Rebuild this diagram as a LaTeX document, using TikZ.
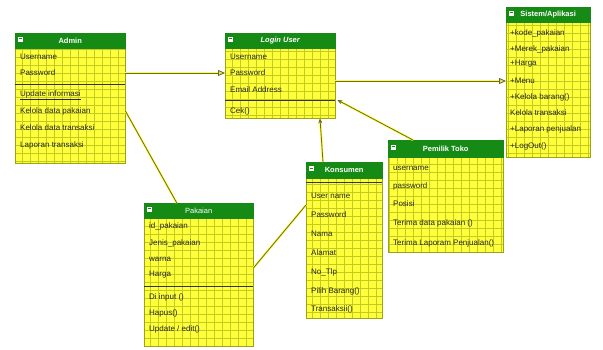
\documentclass[tikz,border=0pt]{standalone}
\usepackage{fontspec}
\setmainfont{Liberation Sans}
\usepackage{xcolor}
\usetikzlibrary{positioning,calc,arrows.meta}
\definecolor{umlYellow}{HTML}{FFFF3C}
\definecolor{umlGrid}{HTML}{C2CC1E}
\definecolor{headGreen}{HTML}{158A15}
\definecolor{lineOlive}{HTML}{6B6A2C}
\definecolor{tipFill}{HTML}{DDE27A}
\tikzset{
    classbody/.style={draw=umlGrid!80!black, fill=umlYellow, anchor=north west,
        inner sep=0pt, line width=0.4pt,
        path picture={\draw[umlGrid, line width=0.5pt]
            (path picture bounding box.south west) grid[step=8pt]
            (path picture bounding box.north east);}},
    classhead/.style={draw=headGreen, fill=headGreen, anchor=north west,
        inner sep=0pt, minimum height=15pt, text=white,
        font=\fontsize{7.5}{9}\selectfont\bfseries},
    minusbox/.style={draw=white, fill=white, inner sep=0pt, minimum width=4.5pt,
        minimum height=4pt, path picture={\draw[headGreen, line width=0.6pt]
            (path picture bounding box.west) -- (path picture bounding box.east);}},
    row/.style={anchor=west, inner sep=0pt, text=black!85,
        font=\fontsize{8}{9}\selectfont},
    sepline/.style={draw=black!80, line width=0.6pt},
    assoc/.style={draw=lineOlive, line width=0.8pt,
        preaction={draw=umlYellow, line width=2.2pt}},
    generalize/.style={assoc, -{Triangle[open, fill=tipFill, length=7pt, width=6pt]}},
    depend/.style={assoc, -{Stealth[length=5pt, width=4pt, fill=black!80]}}
}
\begin{document}
\begin{tikzpicture}[x=1pt, y=-1pt]
    \useasboundingbox (0,0) rectangle (603,349);
    % Admin
    \node[classbody, minimum width=110pt, minimum height=115pt] (admin) at (15,48) {};
    \node[classhead, minimum width=110pt] (adminHead) at (15,33) {Admin};
    \node[minusbox] (adminIcon) at ($(adminHead.west)+(5,-2)$) {};
    \draw[sepline] ($(admin.north west)+(0,36)$) -- ($(admin.north east)+(0,36)$);
    \node[row] (adUser) at (20,57) {Username};
    \node[row] (adPass) at (20,73) {Password};
    \node[row] (adUpdate) at (20,95) {\underline{Update informasi}};
    \node[row] (adKelola) at (20,111) {Kelola data pakaian};
    \node[row] (adTrans) at (20,128) {Kelola data transaksi};
    \node[row] (adLap) at (20,145) {Laporan transaksi};
    % Login User
    \node[classbody, minimum width=110pt, minimum height=70pt] (login) at (225,48) {};
    \node[classhead, minimum width=110pt] (loginHead) at (225,33) {\itshape Login User};
    \node[minusbox] (loginIcon) at ($(loginHead.west)+(5,-2)$) {};
    \draw[sepline] ($(login.north west)+(0,52)$) -- ($(login.north east)+(0,52)$);
    \node[row] (lgUser) at (230,57) {Username};
    \node[row] (lgPass) at (230,73) {Password};
    \node[row] (lgMail) at (230,90) {Email Address};
    \node[row] (lgCek) at (230,111) {Cek()};
    % Sistem/Aplikasi
    \node[classbody, minimum width=84pt, minimum height=135pt] (sistem) at (506,22) {};
    \node[classhead, minimum width=84pt] (sistemHead) at (506,7) {Sistem/Aplikasi};
    \node[minusbox] (sistemIcon) at ($(sistemHead.west)+(5,-2)$) {};
    \node[row] (siKode) at (510,33) {+kode\_pakaian};
    \node[row] (siMerek) at (510,49) {+Merek\_pakaian};
    \node[row] (siHarga) at (510,64) {+Harga};
    \node[row] (siMenu) at (510,81) {+Menu};
    \node[row] (siBarang) at (510,97) {+Kelola barang()};
    \node[row] (siTrans) at (510,113) {Kelola transaksi};
    \node[row] (siLap) at (510,129) {+Laporan penjualan};
    \node[row] (siOut) at (510,146) {+LogOut()};
    % Pakaian
    \node[classbody, minimum width=109pt, minimum height=128pt] (pakaian) at (144,218) {};
    \node[classhead, minimum width=109pt, font=\fontsize{7.5}{9}\selectfont] (pakaianHead) at (144,203) {Pakaian};
    \node[minusbox] (pakaianIcon) at ($(pakaianHead.west)+(5,-2)$) {};
    \draw[sepline] ($(pakaian.north west)+(0,68)$) -- ($(pakaian.north east)+(0,68)$);
    \node[row] (pkId) at (149,226) {id\_pakaian};
    \node[row] (pkJenis) at (149,243) {Jenis\_pakaian};
    \node[row] (pkWarna) at (149,259) {warna};
    \node[row] (pkHarga) at (149,275) {Harga};
    \node[row] (pkInput) at (149,297) {Di input ()};
    \node[row] (pkHapus) at (149,313) {Hapus()};
    \node[row] (pkEdit) at (149,329) {Update / edit()};
    % Konsumen
    \node[classbody, minimum width=76pt, minimum height=140pt] (konsumen) at (306,178) {};
    \node[classhead, minimum width=76pt, minimum height=16pt] (konsumenHead) at (306,162) {Konsumen};
    \node[minusbox] (konsumenIcon) at ($(konsumenHead.west)+(5,-2)$) {};
    \draw[sepline, line width=0.4pt] ($(konsumen.north west)+(0,4)$) -- ($(konsumen.north east)+(0,4)$);
    \node[row] (knUser) at (311,196) {User name};
    \node[row] (knPass) at (311,215) {Password};
    \node[row] (knNama) at (311,234) {Nama};
    \node[row] (knAlamat) at (311,253) {Alamat};
    \node[row] (knTlp) at (311,272) {No\_Tlp};
    \node[row] (knPilih) at (311,291) {Pilih Barang()};
    \node[row] (knTrans) at (311,309) {Transaksii()};
    % Pemilik Toko
    \node[classbody, minimum width=115pt, minimum height=95pt] (pemilik) at (388,157) {};
    \node[classhead, minimum width=115pt, minimum height=17pt] (pemilikHead) at (388,140) {Pemilik Toko};
    \node[minusbox] (pemilikIcon) at ($(pemilikHead.west)+(5,-2)$) {};
    \node[row] (pmUser) at (393,168) {username};
    \node[row] (pmPass) at (393,186) {password};
    \node[row] (pmPosisi) at (393,204) {Posisi};
    \node[row] (pmTerima) at (393,223) {Terima data pakaian ()};
    \node[row] (pmLapor) at (393,243) {Terima Laporam Penjualan()};
    % connectors
    \draw[generalize] (adPass -| admin.east) -- (lgPass -| login.west);
    \draw[generalize] (siMenu -| login.east) -- (siMenu -| sistem.west);
    \draw[assoc] (adKelola -| admin.east) -- ($(pakaianHead.north west)!0.3!(pakaianHead.north east)$);
    \draw[assoc] ($(pakaian.north east)+(0,50)$) -- ($(konsumen.north west)+(0,27)$);
    \draw[depend] ($(konsumenHead.north west)+(17,0)$) -- ($(login.south west)+(95,0)$);
    \draw[depend] ($(pemilikHead.north west)+(25,0)$) -- ($(login.north east)+(2,52)$);
\end{tikzpicture}
\end{document}
